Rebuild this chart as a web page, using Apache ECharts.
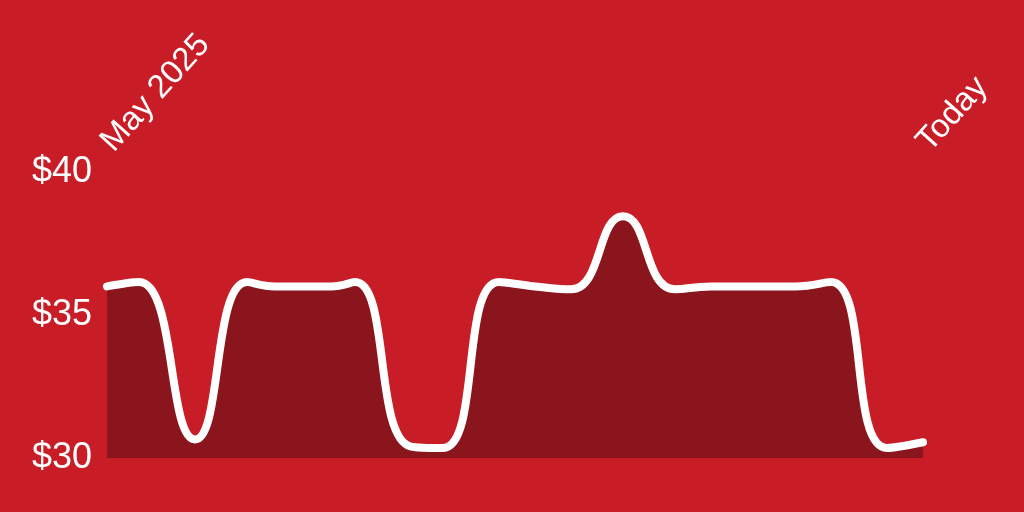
<!DOCTYPE html>
<html>
<head>
<meta charset="utf-8">
<script src="https://cdn.jsdelivr.net/npm/echarts@6/dist/echarts.min.js"></script>
<style>
html,body{margin:0;padding:0;background:#C81D27;}
#chart{width:1024px;height:512px;}
</style>
</head>
<body>
<div id="chart"></div>
<script>
const dates = ['2025-05-01','2025-05-09','2025-05-23','2025-06-05','2025-06-12','2025-06-26','2025-07-02','2025-07-16','2025-07-24','2025-08-07','2025-08-16','2025-08-25','2025-09-07','2025-09-20','2025-09-29','2025-10-20','2025-10-29','2025-11-12','2025-11-21'];
const prices = [36.0,36.15,30.65,36.15,36.0,36.0,36.15,30.4,30.35,36.15,36.0,35.9,38.45,35.9,36.0,36.0,36.15,30.35,30.55];
const xLabels = ['May 2025','Today'];
const yTicks = [30,35,40];

const ts = dates.map(d => new Date(d + 'T00:00:00').getTime());
const first = ts[0], last = ts[ts.length-1];

const chart = echarts.init(document.getElementById('chart'));
chart.setOption({
  backgroundColor:'#C81D27',
  animation:false,
  grid:{left:107,right:101,top:172,bottom:54},
  xAxis:{
    type:'value', position:'top', min:first, max:last,
    axisLine:{show:false}, axisTick:{show:false}, splitLine:{show:false},
    axisLabel:{
      customValues:[first,last],
      rotate:-48, margin:25, color:'#fff', fontSize:33,
      fontFamily:'Liberation Sans, Arial, sans-serif',
      formatter:v => (v === first ? xLabels[0] : xLabels[1])
    }
  },
  yAxis:{
    type:'value', min:yTicks[0], max:yTicks[yTicks.length-1], interval:5,
    axisLine:{show:false}, axisTick:{show:false}, splitLine:{show:false},
    axisLabel:{color:'#fff', fontSize:36, margin:15,
      fontFamily:'Liberation Sans, Arial, sans-serif',
      formatter:v => '$' + v}
  },
  series:[{
    type:'line', smooth:0.5, symbol:'none',
    data: ts.map((t,i)=>[t,prices[i]]),
    lineStyle:{color:'#fff', width:8, cap:'round', join:'round'},
    areaStyle:{color:'#8B151C', opacity:1, origin:'start'}
  }]
});
</script>
</body>
</html>
